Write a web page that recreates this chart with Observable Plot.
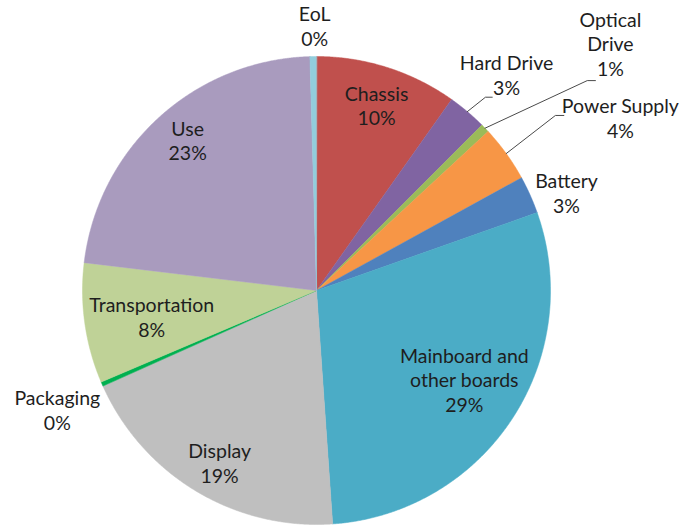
<!DOCTYPE html>
<html><head><meta charset="utf-8">
<script src="https://cdn.jsdelivr.net/npm/d3@7"></script>
<script src="https://cdn.jsdelivr.net/npm/@observablehq/plot@0.6"></script>
<style>
html,body{margin:0;padding:0;background:#fff;}
</style>
</head><body><div id="chart"></div>
<script>
// ---- data ----
const categories = ["Chassis","Hard Drive","Optical Drive","Power Supply","Battery","Mainboard and other boards","Display","Packaging","Transportation","Use","EoL"];
const labelNames = ["Chassis","Hard Drive","Optical\nDrive","Power Supply","Battery","Mainboard and\nother boards","Display","Packaging","Transportation","Use","EoL"];
const shares = [9.8, 2.7, 0.6, 3.9, 2.6, 29.3, 19.4, 0.3, 8.3, 22.65, 0.45];
const colors = ["#C0504D","#8064A2","#9BBB59","#F79646","#4F81BD","#4BACC6","#BFBFBF","#00B050","#BFD297","#A99BBE","#92CDDC"];

// ---- label layout (radius factor, angle shift in degrees, optional leader elbow/end) ----
const labelLayout = {
  "Chassis": {r:0.82, da:0.6},
  "Hard Drive": {r:1.22, da:1.6, leader:[[0.722,0.826],[0.751,0.826]]},
  "Optical Drive": {r:1.633, da:4.2, leader:[[1.157,0.897],[1.192,0.897]]},
  "Power Supply": {r:1.488, da:6.6, leader:[[1.021,0.748],[1.057,0.748]]},
  "Battery": {r:1.143, da:3.3},
  "Mainboard and other boards": {r:0.744, da:-1.4},
  "Display": {r:0.855, da:-2},
  "Packaging": {r:1.224, da:-1.6},
  "Transportation": {r:0.715, da:-2},
  "Use": {r:0.836, da:1.2},
  "EoL": {r:1.12, da:0.4}
};

const total = d3.sum(shares);
const polar = (deg, r) => [r*Math.sin(deg*Math.PI/180), r*Math.cos(deg*Math.PI/180)];

let acc = 0;
const slices = categories.map((name, i) => {
  const a0 = acc/total*360;
  acc += shares[i];
  const a1 = acc/total*360;
  return {name, i, a0, a1, mid:(a0+a1)/2};
});

// polygon vertices for each slice
const pts = [];
for (const s of slices) {
  pts.push({name:s.name, x:0, y:0});
  const n = Math.max(2, Math.ceil((s.a1 - s.a0)/0.25));
  for (let k=0;k<=n;k++){
    const [x,y] = polar(s.a0 + (s.a1-s.a0)*k/n, 1);
    pts.push({name:s.name, x, y});
  }
}

const labelData = slices.map(s => {
  const L = labelLayout[s.name];
  const [x,y] = polar(s.mid + L.da, L.r);
  return {x, y, text: labelNames[s.i] + "\n" + Math.round(shares[s.i]/total*100) + "%"};
});

const leaders = [];
for (const s of slices) {
  const L = labelLayout[s.name];
  if (!L.leader) continue;
  const [x0,y0] = polar(s.mid, 1);
  leaders.push({name:s.name, x:x0, y:y0});
  for (const [x,y] of L.leader) leaders.push({name:s.name, x, y});
}

const chart = Plot.plot({
  width: 691,
  height: 527,
  margin: 0,
  style: {fontFamily: "Lato, 'Liberation Sans', sans-serif", background: "#fff"},
  x: {domain: [-1, 1], range: [82, 550], axis: null},
  y: {domain: [-1, 1], range: [524, 56], axis: null},
  color: {domain: categories, range: colors},
  marks: [
    Plot.line(pts, {x:"x", y:"y", z:"name", fill:"name", stroke:"name", strokeWidth:0.5, curve:"linear-closed"}),
    Plot.line(leaders, {x:"x", y:"y", z:"name", stroke:"#4a4a4a", strokeWidth:1}),
    Plot.text(labelData, {x:"x", y:"y", text:"text", fontSize:19.5, lineHeight:1.26, lineAnchor:"middle", textAnchor:"middle", dy:-3, fill:"#1e1e1e"})
  ]
});
document.getElementById("chart").appendChild(chart);
</script>
</body></html>
